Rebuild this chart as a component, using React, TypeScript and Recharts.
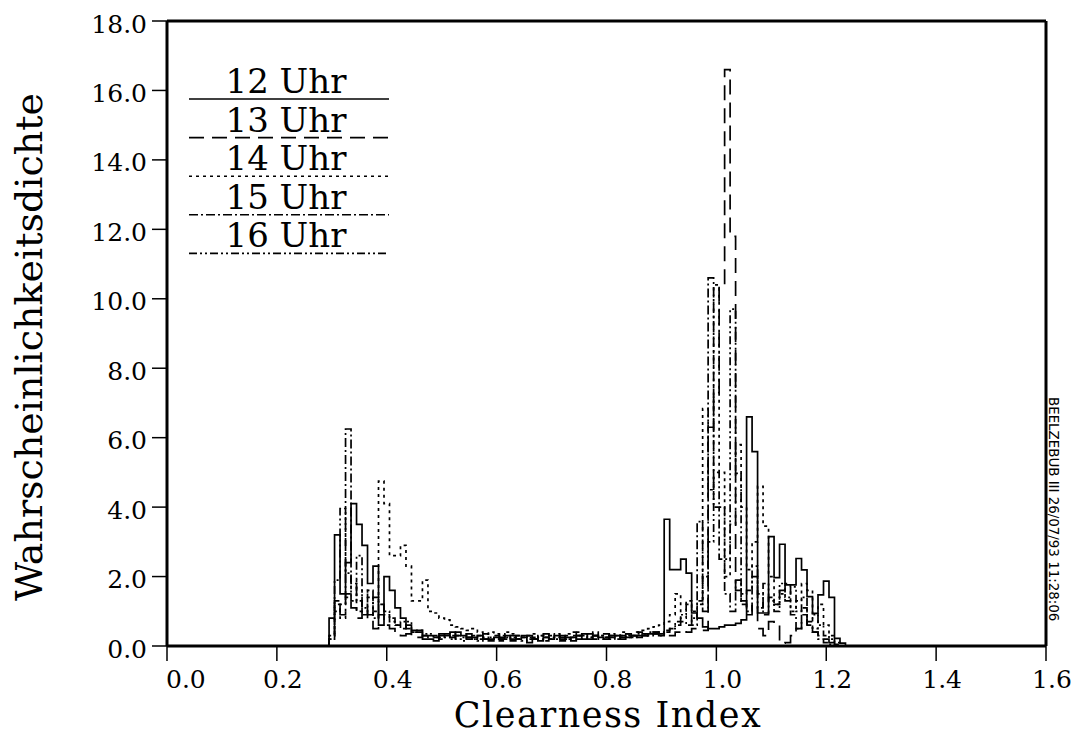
import { LineChart, Line, XAxis, YAxis, ReferenceLine, Customized } from 'recharts'

// histogram bin centres (clearness index), bin width 0.01
const binCenters = [
  0.3, 0.31, 0.32, 0.33, 0.34, 0.35, 0.36, 0.37, 0.38, 0.39,
  0.4, 0.41, 0.42, 0.43, 0.44, 0.45, 0.46, 0.47, 0.48, 0.49,
  0.5, 0.51, 0.52, 0.53, 0.54, 0.55, 0.56, 0.57, 0.58, 0.59,
  0.6, 0.61, 0.62, 0.63, 0.64, 0.65, 0.66, 0.67, 0.68, 0.69,
  0.7, 0.71, 0.72, 0.73, 0.74, 0.75, 0.76, 0.77, 0.78, 0.79,
  0.8, 0.81, 0.82, 0.83, 0.84, 0.85, 0.86, 0.87, 0.88, 0.89,
  0.9, 0.91, 0.92, 0.93, 0.94, 0.95, 0.96, 0.97, 0.98, 0.99,
  1.0, 1.01, 1.02, 1.03, 1.04, 1.05, 1.06, 1.07, 1.08, 1.09,
  1.1, 1.11, 1.12, 1.13, 1.14, 1.15, 1.16, 1.17, 1.18, 1.19,
  1.2, 1.21, 1.22, 1.23,
]
const binWidth = 0.01

const uhr12 = [
  0.8, 3.2, 1.5, 2.4, 4.1, 3.5, 2.9, 1.8, 2.3, 0.6,
  2.0, 1.6, 1.1, 0.8, 0.6, 0.45, 0.45, 0.2, 0.2, 0.15,
  0.3, 0.35, 0.25, 0.4, 0.3, 0.2, 0.25, 0.3, 0.2, 0.15,
  0.25, 0.2, 0.3, 0.15, 0.2, 0.25, 0.1, 0.2, 0.15, 0.25,
  0.2, 0.3, 0.2, 0.25, 0.15, 0.3, 0.35, 0.2, 0.3, 0.25,
  0.2, 0.25, 0.3, 0.2, 0.25, 0.3, 0.25, 0.3, 0.35, 0.4,
  0.3, 3.65, 2.2, 2.2, 2.5, 2.1, 0.95, 0.8, 0.55, 0.5,
  0.5, 0.55, 0.6, 0.6, 0.65, 0.75, 6.6, 5.6, 0.95, 0.95,
  3.15, 1.97, 2.93, 1.76, 1.76, 2.52, 2.19, 1.42, 0.94, 1.47,
  1.87, 1.4, 0.22, 0.08,
]
const uhr13 = [
  0.2, 1.3, 0.9, 1.5, 1.1, 0.8, 1.2, 0.7, 0.5, 0.9,
  0.6, 0.5, 0.4, 0.3, 0.35, 0.3, 0.25, 0.3, 0.2, 0.25,
  0.35, 0.3, 0.4, 0.3, 0.35, 0.25, 0.3, 0.2, 0.35, 0.3,
  0.3, 0.25, 0.35, 0.2, 0.3, 0.25, 0.3, 0.2, 0.3, 0.35,
  0.3, 0.35, 0.25, 0.3, 0.4, 0.3, 0.25, 0.35, 0.3, 0.4,
  0.35, 0.3, 0.25, 0.3, 0.35, 0.3, 0.4, 0.35, 0.3, 0.4,
  0.35, 0.4, 0.3, 0.4, 0.45, 0.4, 0.5, 0.45, 0.45, 6.3,
  7.3, 10.4, 16.6, 11.8, 1.6, 1.3, 0.9, 1.2, 0.5, 0.3,
  0.7, 0.6, 0.08, 0.1, 0.3, 0.5, 0.9, 0.6, 0.4, 0.3,
  0.2, 0.1, 0.05, 0,
]
const uhr14 = [
  0.3, 1.2, 0.8, 1.4, 1.9, 1.0, 1.6, 1.4, 1.0, 4.75,
  4.1, 2.6, 2.6, 2.9, 2.3, 1.3, 1.3, 1.9, 1.0, 0.95,
  0.8, 0.75, 0.6, 0.55, 0.5, 0.45, 0.5, 0.4, 0.35, 0.4,
  0.35, 0.3, 0.4, 0.35, 0.3, 0.25, 0.3, 0.35, 0.25, 0.3,
  0.35, 0.3, 0.25, 0.35, 0.3, 0.4, 0.3, 0.35, 0.4, 0.3,
  0.3, 0.35, 0.3, 0.4, 0.35, 0.3, 0.4, 0.45, 0.5, 0.55,
  0.6, 0.7, 0.9, 1.5, 0.8, 1.3, 1.0, 1.2, 6.84, 4.5,
  10.4, 5.0, 2.0, 3.5, 5.8, 4.0, 2.2, 3.0, 4.6, 3.45,
  2.0, 1.2, 1.5, 1.8, 1.0, 1.3, 1.8, 1.6, 0.5, 1.2,
  0.6, 0.3, 0.1, 0,
]
const uhr15 = [
  0.2, 1.0, 1.2, 6.25, 1.8, 1.3, 0.9, 1.6, 0.8, 1.2,
  0.9, 0.7, 0.6, 0.7, 0.5, 0.4, 0.4, 0.35, 0.3, 0.3,
  0.25, 0.3, 0.2, 0.3, 0.25, 0.35, 0.2, 0.3, 0.25, 0.2,
  0.3, 0.2, 0.25, 0.3, 0.2, 0.3, 0.25, 0.2, 0.3, 0.25,
  0.2, 0.25, 0.3, 0.2, 0.25, 0.3, 0.2, 0.25, 0.3, 0.2,
  0.25, 0.3, 0.2, 0.3, 0.25, 0.3, 0.35, 0.3, 0.4, 0.35,
  0.4, 0.45, 0.5, 0.6, 0.7, 0.6, 0.8, 3.58, 1.0, 10.6,
  4.0, 2.5, 1.5, 1.0, 1.9, 1.2, 1.0, 2.0, 1.5, 0.9,
  1.4, 1.2, 1.6, 1.3, 0.9, 0.5, 1.1, 0.6, 0.4, 0.2,
  0.1, 0.05, 0, 0,
]
const uhr16 = [
  0.3, 1.9, 3.96, 2.1, 1.3, 2.6, 1.1, 0.9, 1.4, 1.2,
  1.0, 0.8, 0.6, 0.5, 0.7, 0.4, 0.45, 0.3, 0.35, 0.25,
  0.2, 0.25, 0.3, 0.2, 0.15, 0.25, 0.2, 0.15, 0.2, 0.25,
  0.2, 0.15, 0.2, 0.25, 0.2, 0.15, 0.2, 0.25, 0.2, 0.15,
  0.25, 0.2, 0.15, 0.2, 0.25, 0.2, 0.3, 0.25, 0.2, 0.3,
  0.25, 0.2, 0.3, 0.25, 0.3, 0.25, 0.3, 0.35, 0.3, 0.35,
  0.3, 0.4, 0.5, 0.7, 0.9, 1.2, 0.6, 1.3, 2.0, 3.0,
  5.0, 4.0, 2.5, 9.7, 4.97, 1.5, 1.6, 2.3, 1.1, 1.8,
  1.3, 1.0, 1.8, 1.4, 1.7, 1.0, 1.4, 0.7, 0.9, 0.6,
  0.3, 0.2, 0.05, 0,
]

const xTicks = [0, 0.2, 0.4, 0.6, 0.8, 1.0, 1.2, 1.4, 1.6]
const yTicks = [0, 2, 4, 6, 8, 10, 12, 14, 16, 18]

const series = [
  { key: 'u12', name: '12 Uhr', values: uhr12, dash: undefined },
  { key: 'u13', name: '13 Uhr', values: uhr13, dash: '15 8' },
  { key: 'u14', name: '14 Uhr', values: uhr14, dash: '3 4' },
  { key: 'u15', name: '15 Uhr', values: uhr15, dash: '9 3 2 3' },
  { key: 'u16', name: '16 Uhr', values: uhr16, dash: '8 3 2 3 2 3' },
]

// step rows: one point per left bin edge, plus a zero point before and after
// so every histogram rises from and falls back to the baseline
const zeros = Object.fromEntries(series.map((s) => [s.key, 0]))
const rows = [
  { x: binCenters[0] - 1.5 * binWidth, ...zeros },
  ...binCenters.map((c, i) => {
    const row: Record<string, number> = { x: c - binWidth / 2 }
    series.forEach((s) => (row[s.key] = s.values[i]))
    return row
  }),
  { x: binCenters[binCenters.length - 1] + binWidth / 2, ...zeros },
]

const FONT = '"DejaVu Serif", serif'

const XTick = (props: any) => {
  const { x, payload } = props
  const first = payload.value === 0
  return (
    <text
      x={first ? x - 1 : x + 6}
      y={688}
      textAnchor={first ? 'start' : 'middle'}
      fontFamily={FONT}
      fontSize={25}
      fill="#000"
    >
      {Number(payload.value).toFixed(1)}
    </text>
  )
}

const YTick = (props: any) => {
  const { y, payload } = props
  return (
    <text
      x={147}
      y={y + 3}
      textAnchor="end"
      dominantBaseline="central"
      fontFamily={FONT}
      fontSize={25}
      fill="#000"
    >
      {Number(payload.value).toFixed(1)}
    </text>
  )
}

const Decorations = () => (
  <g>
    {series.map((s, i) => {
      const ly = 99 + i * 38.6
      return (
        <g key={s.key}>
          <text
            x={286}
            y={ly - 6}
            textAnchor="middle"
            fontFamily={FONT}
            fontSize={34}
            fill="#000"
          >
            {s.name}
          </text>
          <line
            x1={189}
            x2={389}
            y1={ly}
            y2={ly}
            stroke="#000"
            strokeWidth={1.6}
            strokeDasharray={s.dash}
          />
        </g>
      )
    })}
    <text
      x={42}
      y={347}
      transform="rotate(-90, 42, 347)"
      textAnchor="middle"
      fontFamily={FONT}
      fontSize={38}
      fill="#000"
    >
      Wahrscheinlichkeitsdichte
    </text>
    <text
      x={608}
      y={727}
      textAnchor="middle"
      fontFamily={FONT}
      fontSize={35}
      letterSpacing={1.5}
      fill="#000"
    >
      Clearness Index
    </text>
    <text
      x={1049}
      y={397}
      transform="rotate(90, 1049, 397)"
      fontFamily='"DejaVu Sans", sans-serif'
      fontSize={13.4}
      fill="#000"
    >
      BEELZEBUB III 26/07/93 11:28:06
    </text>
  </g>
)

export default function App() {
  return (
    <div
      style={{
        position: 'absolute',
        left: 0,
        top: 0,
        width: 1075,
        height: 737,
        background: '#fff',
      }}
    >
      <LineChart
        width={1075}
        height={737}
        data={rows}
        margin={{ top: 21, right: 29, bottom: 0, left: 0 }}
      >
        <XAxis
          dataKey="x"
          type="number"
          domain={[0, 1.6]}
          ticks={xTicks}
          allowDataOverflow
          height={91}
          tickSize={15}
          tick={<XTick />}
          axisLine={{ stroke: '#000', strokeWidth: 3 }}
          tickLine={{ stroke: '#000', strokeWidth: 1.5 }}
        />
        <YAxis
          type="number"
          domain={[0, 18]}
          ticks={yTicks}
          allowDataOverflow
          width={167}
          tickSize={15}
          tick={<YTick />}
          axisLine={{ stroke: '#000', strokeWidth: 3 }}
          tickLine={{ stroke: '#000', strokeWidth: 1.5 }}
        />
        {/* frame: top and right edges of the plot box */}
        <ReferenceLine y={18} stroke="#000" strokeWidth={3} ifOverflow="visible" />
        <ReferenceLine x={1.6} stroke="#000" strokeWidth={3} ifOverflow="visible" />
        {series.map((s) => (
          <Line
            key={s.key}
            dataKey={s.key}
            name={s.name}
            type="stepAfter"
            stroke="#000"
            strokeWidth={1.7}
            strokeDasharray={s.dash}
            dot={false}
            activeDot={false}
            isAnimationActive={false}
          />
        ))}
        <Customized component={Decorations} />
      </LineChart>
    </div>
  )
}
